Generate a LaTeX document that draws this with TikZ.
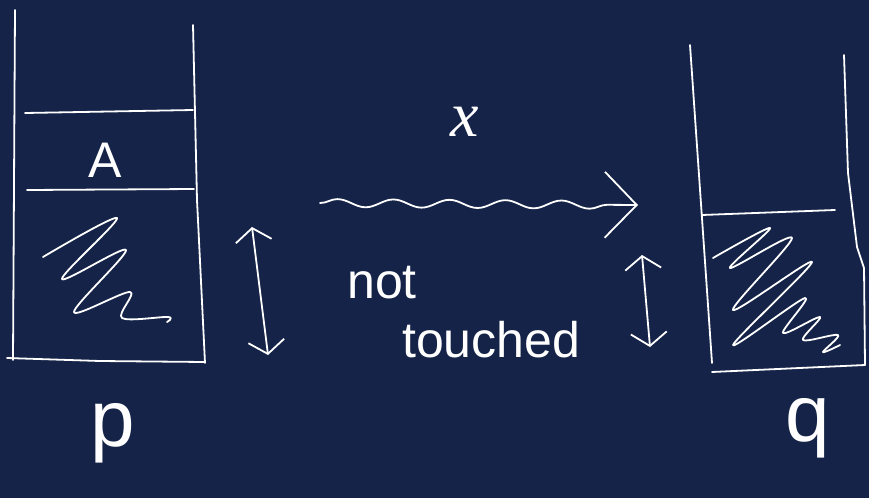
\documentclass[tikz,border=0pt]{standalone}
\usepackage{fontspec}
\setmainfont{Liberation Sans}
\newfontfamily\slant{Liberation Serif}
\usetikzlibrary{arrows.meta,decorations.pathmorphing}
\definecolor{board}{HTML}{142347}
\definecolor{chalk}{HTML}{FFFFFF}
\tikzset{
  pen/.style={draw=chalk,line width=1.8pt,line cap=round,line join=round},
  scribble/.style={pen},
  word/.style={text=chalk,inner sep=0pt,font=\fontsize{50}{56}\selectfont},
  letter/.style={word,font=\fontsize{80}{90}\selectfont},
  wave/.style={pen,decorate,decoration={snake,amplitude=4pt,segment length=56pt,post length=14pt},
               -{Straight Barb[length=32pt,width=66pt]}},
  span/.style={pen,{Straight Barb[length=13pt,width=36pt]}-{Straight Barb[length=13pt,width=36pt]}}
}
\begin{document}
\begin{tikzpicture}[x=1pt,y=-1pt]
  \useasboundingbox[fill=board] (0,0) rectangle (869,498);
  % stack p
  \draw[pen] (15,10) -- (13,360);
  \draw[pen] (193,25) -- (197,200) -- (205,363);
  \draw[pen] (7,358) -- (100,361) -- (205,362);
  \draw[pen] (25,113) -- (193,110);
  \draw[pen] (27,190) -- (194,189);
  \draw[scribble] plot[smooth,tension=.55] coordinates {(43,257) (117,218) (62,279) (126,250) (74,312) (130,292) (122,318) (168,317) (167,322)};
  \node[word,anchor=base] (a) at (105,177) {A};
  \node[letter,anchor=base] (p) at (113,446) {p};
  % stack q
  \draw[pen] (690,45) -- (712,363);
  \draw[pen] (844,55) -- (848,173) -- (857,247) -- (864,268) -- (865,365);
  \draw[pen] (712,372) -- (865,365);
  \draw[pen] (702,215) -- (835,210);
  \draw[scribble] plot[smooth,tension=.55] coordinates {(713,258) (770,228) (730,268) (792,238) (733,310) (812,262) (733,345) (805,298) (783,333) (820,317) (803,340) (838,335) (823,352) (840,345)};
  \node[letter,anchor=base] (q) at (808,441) {q};
  % move
  \coordinate (from) at (320,203);
  \coordinate (to) at (638,205);
  \draw[wave] (from) -- (to);
  \node[text=chalk,inner sep=0pt,anchor=base,font=\slant\itshape\fontsize{64}{70}\selectfont] (x) at (465,136) {x};
  \node[word,anchor=base west] (not) at (347,298) {not};
  \node[word,anchor=base west] (touched) at (402,357) {touched};
  \coordinate (pt) at (252,227); \coordinate (pb) at (268,355);
  \coordinate (qt) at (642,255); \coordinate (qb) at (650,347);
  \draw[span] (pt) -- (pb);
  \draw[span] (qt) -- (qb);
\end{tikzpicture}
\end{document}
